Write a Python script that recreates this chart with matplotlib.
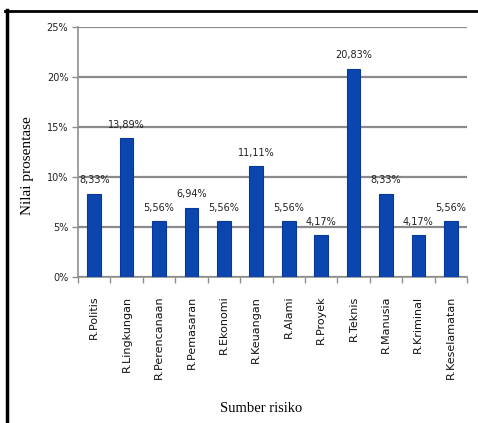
import matplotlib
matplotlib.use("Agg")
import matplotlib.pyplot as plt
from matplotlib.lines import Line2D
import numpy as np

categories = ["R.Politis", "R.Lingkungan", "R.Perencanaan", "R.Pemasaran", "R.Ekonomi",
              "R.Keuangan", "R.Alami", "R.Proyek", "R.Teknis", "R.Manusia",
              "R.Kriminal", "R.Keselamatan"]
values = [8.33, 13.89, 5.56, 6.94, 5.56, 11.11, 5.56, 4.17, 20.83, 8.33, 4.17, 5.56]
value_labels = ["8,33%", "13,89%", "5,56%", "6,94%", "5,56%", "11,11%", "5,56%",
                "4,17%", "20,83%", "8,33%", "4,17%", "5,56%"]
y_ticks = [0, 5, 10, 15, 20, 25]
y_tick_labels = ["0%", "5%", "10%", "15%", "20%", "25%"]

fig = plt.figure(figsize=(4.78, 4.23), dpi=100)
ax = fig.add_axes([78/478, 1-277/423, (467-78)/478, (277-27)/423])

x = np.arange(len(categories))
ax.bar(x, values, width=0.42, color="#0B45AE", edgecolor="#08389A", linewidth=0.8, zorder=3)

for xi, v, lab in zip(x, values, value_labels):
    ax.annotate(lab, (xi, v), xytext=(0, 6), textcoords="offset points",
                ha="center", va="bottom", fontsize=7, family="DejaVu Sans", color="#222222")

ax.set_xlim(-0.5, len(categories) - 0.5)
ax.set_ylim(0, 25)
ax.set_yticks(y_ticks)
ax.set_yticklabels(y_tick_labels, fontsize=7, family="DejaVu Sans", color="#222222")
ax.yaxis.grid(True, color="#8a8a8a", linewidth=1.6, zorder=0)
ax.set_axisbelow(True)

ax.set_xticks(x)
ax.set_xticklabels([])
ax.tick_params(axis="x", which="major", length=0)
ax.set_xticks(np.arange(-0.5, len(categories)), minor=True)
ax.tick_params(axis="x", which="minor", length=4, color="#8f8f8f", width=1)
ax.tick_params(axis="y", length=4, color="#8f8f8f", width=1, pad=3)

for xi, lab in zip(x, categories):
    ax.text(xi, -0.075, lab, transform=ax.get_xaxis_transform(), rotation=90,
            ha="center", va="top", fontsize=8, family="DejaVu Sans", color="#111111")

for s in ["top", "right"]:
    ax.spines[s].set_visible(False)
for s in ["left", "bottom"]:
    ax.spines[s].set_color("#8f8f8f")
    ax.spines[s].set_linewidth(1.2)

fig.text(27/478, 1-166/423, "Nilai prosentase", rotation=90, ha="center", va="center",
         fontsize=11, family="Liberation Serif")
fig.text(261/478, 1-408/423, "Sumber risiko", ha="center", va="center",
         fontsize=10.5, family="Liberation Serif")

# figure border (top and left)
fig.add_artist(Line2D([5/478, 1.0], [1-11/423, 1-11/423], transform=fig.transFigure,
                      color="black", linewidth=2))
fig.add_artist(Line2D([6.5/478, 6.5/478], [0, 1-10/423], transform=fig.transFigure,
                      color="black", linewidth=2.5))

fig.savefig("out.png", dpi=100)
